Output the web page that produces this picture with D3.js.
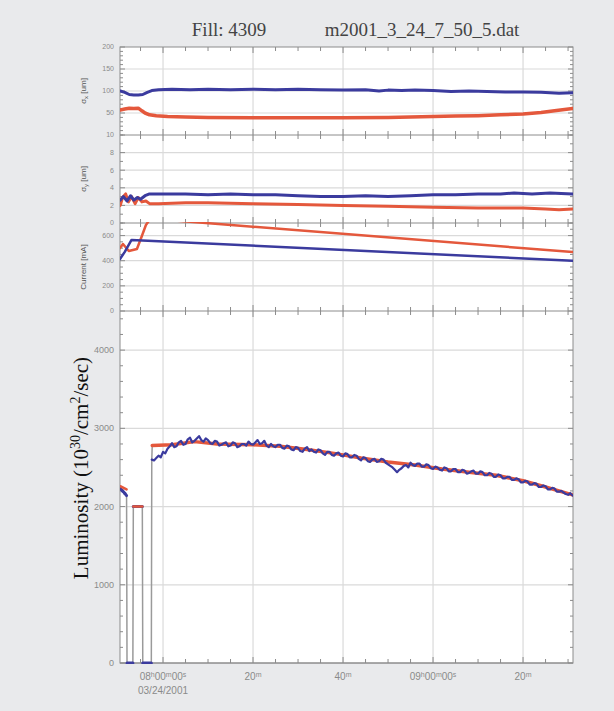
<!DOCTYPE html>
<html>
<head>
<meta charset="utf-8">
<script src="https://cdn.jsdelivr.net/npm/d3@7"></script>
<style>
  html, body { margin: 0; padding: 0; background: #e9eaec; }
  svg { display: block; }
</style>
</head>
<body>
<svg id="chart" width="614" height="711"></svg>
<script>
// All series are [minutes after 07:50, value] on 03/24/2001.

// Horizontal beam size sigma_x [um]
const sigmaXBlue = [[0.5,100],[1.5,97],[2.5,92],[3.5,91],[4.5,91],[5.5,92],[6.5,97],[7.5,101],[9,103],[12,104],[16,103],[20,104],[25,103],[30,104],[35,103],[40,104],[45,103],[50,102],[55,103],[58,100],[60,102],[63,101],[66,102],[70,101],[74,99],[78,100],[82,99],[86,98],[90,98],[94,97],[98,95],[101,96]];
const sigmaXRed = [[0.5,57],[1.5,59],[2.5,61],[3.5,60],[4.5,61],[5.3,55],[6,50],[7,46],[8.5,44],[11,42],[15,41],[20,40],[30,39],[40,39],[50,39],[60,40],[65,41],[70,42],[75,43],[80,44],[85,46],[90,48],[94,51],[97,55],[101,60]];

// Vertical beam size sigma_y [um]
const sigmaYBlue = [[0.5,2.6],[1.2,3.0],[2,2.5],[2.8,3.1],[3.5,2.6],[4.3,2.9],[5,2.7],[6,3.1],[7,3.3],[10,3.3],[15,3.3],[20,3.2],[25,3.3],[30,3.2],[35,3.2],[40,3.1],[45,3.0],[50,3.0],[55,3.1],[60,3.0],[65,3.1],[70,3.2],[75,3.2],[80,3.3],[85,3.3],[88,3.4],[92,3.3],[96,3.4],[101,3.3]];
const sigmaYRed = [[0.5,2.0],[1,2.9],[1.7,3.3],[2.3,2.4],[3,3.0],[3.8,2.2],[4.5,2.9],[5.3,2.4],[6.2,2.5],[7,2.2],[9,2.2],[15,2.3],[20,2.3],[30,2.2],[40,2.1],[50,2.0],[60,1.9],[70,1.8],[80,1.7],[90,1.7],[95,1.6],[98,1.5],[101,1.6]];

// Beam currents
const currentBlue = [[0.44,414],[1.5,470],[3.0,565],[101,400]];
const currentRed = [[0.44,500],[1.1,533],[2.4,477],[4.2,493],[5.3,597],[6.2,684],[7.2,735],[101,469]];

// Luminosity: first minutes (drop-outs) and the main fill
const lumiEarlyBlue = [[0.5,2230],[1.0,2200],[1.5,2170],[1.9,2140],[2.0,0],[3.3,0],[3.4,2000],[5.4,2000],[5.5,0],[7.4,0],[7.5,2600]];
const lumiEarlyRed = [[[0.5,2260],[1.9,2220]],[[3.4,2000],[5.4,2000]]];
const lumiStartMinute = 8;   // samples every half minute from here on
const lumiStepMinute = 0.5;
const lumiBlue = [
  2590,2620, 2650,2630, 2700,2680, 2740,2770, 2810,2760, 2770,2820, 2840,2790, 2800,2860, 2880,2820, 2840,2870,
  2900,2850, 2830,2870, 2850,2810, 2800,2840, 2830,2780, 2790,2810, 2820,2770, 2780,2820, 2810,2760, 2770,2800,
  2800,2780, 2830,2800, 2790,2820, 2850,2800, 2810,2840, 2780,2760, 2800,2770, 2760,2790, 2790,2750, 2740,2780,
  2770,2730, 2720,2760, 2750,2710, 2700,2740, 2760,2710, 2730,2700, 2690,2730, 2720,2680, 2660,2700, 2700,2660,
  2650,2680, 2690,2650, 2640,2680, 2670,2630, 2630,2660, 2650,2610, 2590,2630, 2620,2580, 2570,2600, 2610,2570,
  2580,2610, 2600,2560, 2540,2520, 2500,2470, 2440,2470, 2490,2520, 2530,2500, 2560,2530, 2520,2550, 2550,2510,
  2510,2540, 2530,2490, 2480,2510, 2500,2470, 2460,2500, 2490,2450, 2450,2480, 2480,2440, 2440,2470, 2460,2420,
  2430,2450, 2460,2420, 2420,2450, 2440,2400, 2400,2430, 2420,2380, 2380,2410, 2400,2360, 2360,2380, 2380,2340,
  2340,2360, 2350,2310, 2310,2330, 2320,2280, 2280,2300, 2290,2250, 2250,2270, 2260,2220, 2220,2240, 2230,2190,
  2190,2200, 2180,2160, 2150,2170, 2140];
const lumiRed = [[7.6,2780],[12,2790],[17,2830],[22,2800],[30,2790],[36,2770],[42,2730],[48,2680],[54,2620],[60,2570],[66,2530],[72,2480],[78,2440],[84,2400],[90,2330],[95,2250],[101,2150]];

// Axis ticks
const sigmaXTicks = [50,100,150,200];
const sigmaYTicks = [0,2,4,6,8,10];
const currentTicks = [0,200,400,600];
const lumiTicks = [0,1000,2000,3000,4000];
const timeTicks = [10,30,50,70,90];               // minutes after 07:50
const timeTickLabels = ["08h00m00s","20m","40m","09h00m00s","20m"];
const dateLabel = "03/24/2001";

const blue = "#3b3b9e", red = "#e4583c";
const base = new Date(2001, 2, 24, 7, 50, 0);
const at = m => new Date(base.getTime() + m * 60000);

const svg = d3.select("#chart");
const L = 120, R = 573;
svg.append("rect").attr("width", 614).attr("height", 711).attr("fill", "#e9eaec");

const x = d3.scaleTime().domain([at(0.44), at(101.1)]).range([L, R]);

const panels = [
  { top: 47, bottom: 135, domain: [0, 200], ticks: sigmaXTicks, minor: 10, label: ["σ", "x", " [um]"] },
  { top: 135, bottom: 223, domain: [0, 10], ticks: sigmaYTicks, minor: 1, label: ["σ", "y", " [um]"] },
  { top: 223, bottom: 311, domain: [0, 700], ticks: currentTicks, minor: 50, label: ["Current [mA]"] },
  { top: 311, bottom: 663, domain: [0, 4500], ticks: lumiTicks, minor: 200, label: null }
];
panels.forEach(p => { p.y = d3.scaleLinear().domain(p.domain).range([p.bottom, p.top]); });

// plot area
svg.append("rect").attr("x", L).attr("y", 47).attr("width", R - L).attr("height", 663 - 47).attr("fill", "#fff");

const grid = svg.append("g").attr("stroke", "#dadada").attr("stroke-width", 1.2);
const majorTimes = timeTicks.map(at);
majorTimes.forEach(t => grid.append("line").attr("x1", x(t)).attr("x2", x(t)).attr("y1", 47).attr("y2", 663));
panels.forEach(p => {
  p.ticks.forEach(v => {
    const yy = p.y(v);
    if (yy > p.top + 1 && yy < p.bottom - 1)
      grid.append("line").attr("x1", L).attr("x2", R).attr("y1", yy).attr("y2", yy);
  });
});

// frame and ticks
const axisCol = "#8c8c8c";
const ax = svg.append("g").attr("stroke", axisCol).attr("stroke-width", 1);
ax.append("rect").attr("x", L).attr("y", 47).attr("width", R - L).attr("height", 663 - 47).attr("fill", "none");
panels.forEach(p => {
  ax.append("line").attr("x1", L).attr("x2", R).attr("y1", p.bottom).attr("y2", p.bottom);
  // time ticks on top and bottom edge of each panel
  const minorTimes = d3.range(5, 101, 5).map(at);
  minorTimes.forEach(t => {
    const isMajor = majorTimes.some(mt => +mt === +t);
    const len = isMajor ? 6 : 4;
    ax.append("line").attr("x1", x(t)).attr("x2", x(t)).attr("y1", p.bottom).attr("y2", p.bottom - len);
    ax.append("line").attr("x1", x(t)).attr("x2", x(t)).attr("y1", p.top).attr("y2", p.top + len);
  });
  // value ticks on left and right edge
  d3.range(p.domain[0], p.domain[1] + 1e-9, p.minor).forEach(v => {
    const isMajor = p.ticks.some(t => Math.abs(t - v) < 1e-9);
    const len = isMajor ? 5 : 3;
    const yy = p.y(v);
    ax.append("line").attr("x1", L).attr("x2", L + len).attr("y1", yy).attr("y2", yy);
    ax.append("line").attr("x1", R).attr("x2", R - len).attr("y1", yy).attr("y2", yy);
  });
});

// tick labels
const tl = svg.append("g").attr("font-family", "Liberation Sans, Arial, sans-serif").attr("fill", "#8a8a8a");
panels.forEach((p, i) => {
  p.ticks.forEach(v => {
    tl.append("text").attr("x", 114).attr("y", p.y(v)).attr("dy", "0.35em")
      .attr("text-anchor", "end").attr("font-size", i === 3 ? 9 : 7).text(v);
  });
});

// rotated panel titles
panels.forEach(p => {
  if (!p.label) return;
  const cy = (p.top + p.bottom) / 2;
  const t = svg.append("text").attr("transform", `translate(86,${cy}) rotate(-90)`)
    .attr("text-anchor", "middle").attr("font-family", "Liberation Sans, Arial, sans-serif")
    .attr("font-size", 8).attr("fill", "#555");
  if (p.label.length === 3) {
    t.append("tspan").text(p.label[0]);
    t.append("tspan").attr("font-size", 6).attr("dy", 2).text(p.label[1]);
    t.append("tspan").attr("dy", -2).text(p.label[2]);
  } else t.text(p.label[0]);
});

// time labels with superscript units
const xl = svg.append("g").attr("font-family", "Liberation Sans, Arial, sans-serif").attr("fill", "#8a8a8a");
timeTickLabels.forEach((s, i) => {
  const t = xl.append("text").attr("x", x(majorTimes[i])).attr("y", 680).attr("text-anchor", "middle").attr("font-size", 10);
  s.match(/\d+|[a-z]/g).forEach(part => {
    if (/\d/.test(part)) t.append("tspan").attr("font-size", 10).text(part);
    else t.append("tspan").attr("font-size", 7).attr("baseline-shift", "super").text(part);
  });
});
xl.append("text").attr("x", x(majorTimes[0])).attr("y", 694).attr("text-anchor", "middle").attr("font-size", 10).text(dateLabel);

// data lines
const defs = svg.append("defs");
panels.forEach((p, i) => {
  defs.append("clipPath").attr("id", "clip" + i).append("rect")
    .attr("x", L).attr("y", p.top - 1).attr("width", R - L).attr("height", p.bottom - p.top + 2);
});
function drawLine(series, panelIdx, color, width) {
  const p = panels[panelIdx];
  const line = d3.line().x(d => x(at(d[0]))).y(d => p.y(d[1]));
  svg.append("path").attr("d", line(series)).attr("fill", "none").attr("stroke", color)
    .attr("stroke-width", width).attr("stroke-linejoin", "round").attr("stroke-linecap", "round")
    .attr("clip-path", `url(#clip${panelIdx})`);
}

drawLine(sigmaXRed, 0, red, 3.5);
drawLine(sigmaXBlue, 0, blue, 3);
drawLine(sigmaYRed, 1, red, 3);
drawLine(sigmaYBlue, 1, blue, 3);
drawLine(currentRed, 2, red, 2.5);
drawLine(currentBlue, 2, blue, 2.5);

// luminosity: drop-outs drawn as grey connectors with blue runs on the flat parts
drawLine(lumiEarlyBlue, 3, "#9a9a9a", 1.5);
for (let k = 1; k < lumiEarlyBlue.length; k++) {
  const a = lumiEarlyBlue[k - 1], b = lumiEarlyBlue[k];
  if (Math.abs(a[1] - b[1]) < 500) drawLine([a, b], 3, blue, 3);
}
lumiEarlyRed.forEach(seg => drawLine(seg, 3, red, 2.5));
// join from last early sample up to the main fill
drawLine([lumiEarlyBlue[lumiEarlyBlue.length - 1], lumiRed[0]], 3, "#9a9a9a", 1.5);
drawLine(lumiRed, 3, red, 3.5);
const lumiMain = [lumiEarlyBlue[lumiEarlyBlue.length - 1]]
  .concat(lumiBlue.map((v, k) => [lumiStartMinute + k * lumiStepMinute, v]));
drawLine(lumiMain, 3, blue, 2.2);

// titles
svg.append("text").attr("x", 229).attr("y", 36).attr("text-anchor", "middle")
  .attr("font-family", "Liberation Serif, Times New Roman, serif").attr("font-size", 19).attr("fill", "#444").text("Fill: 4309");
svg.append("text").attr("x", 422).attr("y", 36).attr("text-anchor", "middle")
  .attr("font-family", "Liberation Serif, Times New Roman, serif").attr("font-size", 19).attr("fill", "#444").text("m2001_3_24_7_50_5.dat");

const yl = svg.append("text").attr("transform", "translate(88,468) rotate(-90)").attr("text-anchor", "middle")
  .attr("font-family", "Liberation Serif, Times New Roman, serif").attr("font-size", 21).attr("fill", "#111");
yl.append("tspan").text("Luminosity (10");
yl.append("tspan").attr("font-size", 14).attr("dy", -8).text("30");
yl.append("tspan").attr("dy", 8).text("/cm");
yl.append("tspan").attr("font-size", 14).attr("dy", -8).text("2");
yl.append("tspan").attr("dy", 8).text("/sec)");
</script>
</body>
</html>
